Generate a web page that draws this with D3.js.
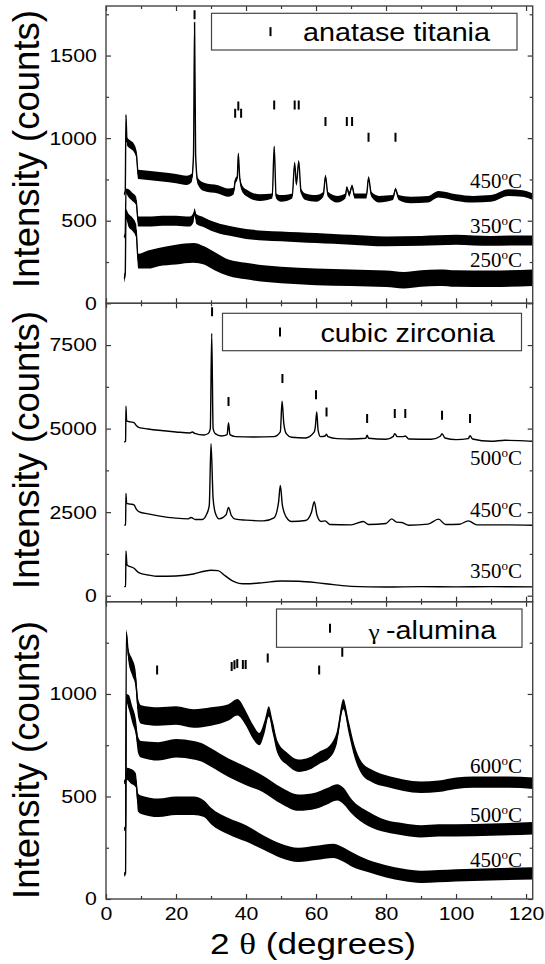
<!DOCTYPE html>
<html>
<head>
<meta charset="utf-8">
<script src="https://cdn.jsdelivr.net/npm/d3@7"></script>
<style>
  body { margin: 0; background: #fff; }
  svg { display: block; }
</style>
</head>
<body>
<div id="chart"></div>
<script>
// ---- data: [2theta, counts, noise half-width] ----
const xMajor = [0, 20, 40, 60, 80, 100, 120];
const xMinor = [10, 30, 50, 70, 90, 110];

const titania450 = [
  [5.2, 660, 10], [5.5, 680, 10], [5.7, 1140, 10], [6.0, 980, 25], [7.0, 960, 25], [8.0, 940, 25],
  [8.7, 900, 25], [9.2, 780, 28], [12, 775, 28], [16, 765, 28], [20, 755, 28], [23, 745, 28],
  [24.5, 760, 25], [25.0, 900, 10], [25.3, 1700, 5], [25.6, 900, 10], [26.2, 740, 20], [28, 705, 25],
  [32, 690, 25], [35, 670, 25], [36.5, 680, 20], [36.9, 740, 15], [37.5, 760, 15], [37.8, 905, 10],
  [38.2, 760, 15], [38.8, 700, 20], [40, 670, 20], [44, 640, 20], [47.5, 650, 15], [48.05, 950, 5],
  [48.6, 650, 15], [50, 635, 20], [53.2, 650, 15], [53.9, 850, 8], [54.4, 720, 10], [55.06, 860, 8],
  [55.7, 680, 15], [57, 645, 20], [60, 635, 20], [62.1, 660, 15], [62.7, 770, 10], [63.4, 660, 15],
  [66, 630, 20], [68.4, 650, 15], [68.8, 700, 10], [69.5, 660, 15], [70.3, 710, 10], [71, 650, 15],
  [74.4, 650, 15], [75.0, 760, 10], [75.8, 660, 15], [78, 630, 20], [82.0, 640, 15], [82.7, 690, 10],
  [83.6, 640, 15], [87, 625, 20], [92, 630, 20], [95, 660, 20], [100, 640, 20], [105, 630, 20],
  [110, 635, 20], [115, 670, 20], [119, 665, 20], [122, 645, 20]
];
const titania350 = [
  [5.2, 400, 10], [5.5, 420, 10], [5.7, 680, 15], [6.5, 665, 25], [7.5, 645, 25], [8.6, 620, 25],
  [9.2, 495, 30], [12, 495, 30], [16, 500, 30], [20, 500, 30], [24, 495, 30], [25.0, 520, 30],
  [25.3, 555, 20], [25.8, 510, 30], [28, 490, 30], [30, 470, 30], [35, 440, 30], [40, 420, 30],
  [45, 410, 30], [50, 405, 30], [55, 400, 30], [60, 395, 30], [65, 390, 30], [70, 385, 30],
  [80, 375, 30], [90, 378, 30], [100, 385, 30], [105, 380, 30], [110, 378, 30], [116, 380, 30], [122, 380, 30]
];
const titania250 = [
  [5.2, 150, 25], [5.5, 180, 20], [5.7, 540, 30], [6.5, 500, 40], [7.5, 480, 40], [8.6, 440, 40],
  [9.2, 255, 45], [12, 265, 55], [15, 280, 55], [20, 295, 60], [25, 305, 60], [28, 290, 55],
  [31, 255, 55], [35, 215, 50], [40, 195, 50], [45, 180, 50], [50, 172, 50], [60, 160, 50],
  [70, 155, 50], [80, 148, 50], [85, 140, 50], [90, 150, 50], [95, 155, 50], [100, 150, 50],
  [110, 148, 50], [122, 155, 50]
];
const titaniaRefs = [
  [25.3, 1747], [36.9, 1150], [37.8, 1195], [38.6, 1150], [48.05, 1200], [53.9, 1200], [55.06, 1200],
  [62.7, 1100], [68.8, 1100], [70.3, 1100], [75.0, 1005], [82.7, 1005]
];

const zirconia500 = [
  [5.2, 4600, 0], [5.6, 4620, 0], [5.7, 5670, 0], [5.9, 5230, 0], [7, 5200, 0], [8, 5180, 0],
  [8.6, 5100, 0], [9.5, 5030, 0], [12, 4990, 0], [15, 4950, 0], [20, 4900, 0], [24, 4870, 0],
  [24.7, 4900, 0], [25.3, 4860, 0], [28, 4810, 0], [29.3, 4860, 0], [29.8, 5000, 0], [30.2, 7850, 0],
  [30.6, 5000, 0], [31.2, 4850, 0], [33, 4780, 0], [34.6, 4820, 0], [35.0, 5180, 0], [35.4, 4820, 0],
  [37, 4760, 0], [42, 4750, 0], [48, 4760, 0], [49.8, 4900, 0], [50.3, 5820, 0], [50.8, 5150, 0],
  [51.5, 4850, 0], [53, 4740, 0], [57, 4720, 0], [59.5, 4900, 0], [59.8, 5050, 0], [60.2, 5500, 0],
  [60.6, 4950, 0], [61.3, 4760, 0], [62.6, 4780, 0], [63.0, 4830, 0], [63.4, 4760, 0], [66, 4700, 0],
  [70, 4690, 0], [74.2, 4710, 0], [74.6, 4800, 0], [75.0, 4710, 0], [80, 4680, 0], [82.0, 4760, 0],
  [82.5, 4850, 0], [83.2, 4760, 0], [84.8, 4760, 0], [85.5, 4780, 0], [86.5, 4690, 0], [93, 4680, 0],
  [95.5, 4770, 0], [96.0, 4850, 0], [96.8, 4720, 0], [100, 4670, 0], [103.5, 4700, 0], [104.0, 4790, 0],
  [104.7, 4690, 0], [110, 4620, 0], [114, 4650, 0], [118, 4640, 0], [122, 4620, 0]
];
const zirconia450 = [
  [5.2, 2110, 0], [5.6, 2120, 0], [5.7, 3060, 0], [5.9, 2760, 0], [7, 2740, 0], [8, 2720, 0],
  [8.6, 2600, 0], [9.5, 2510, 0], [12, 2450, 0], [15, 2390, 0], [20, 2320, 0], [23.5, 2300, 0],
  [24.3, 2340, 0], [25.5, 2280, 0], [27.5, 2280, 0], [28.8, 2450, 0], [29.5, 2700, 0], [30.0, 4550, 0],
  [30.6, 2900, 0], [31.3, 2450, 0], [32.3, 2300, 0], [34.3, 2420, 0], [35.0, 2640, 0], [35.8, 2400, 0],
  [37, 2290, 0], [40, 2260, 0], [45, 2240, 0], [48, 2330, 0], [49.3, 2800, 0], [49.8, 3300, 0],
  [50.4, 2700, 0], [51.5, 2350, 0], [53, 2220, 0], [57, 2250, 0], [58.7, 2500, 0], [59.5, 2810, 0],
  [60.3, 2400, 0], [61.5, 2220, 0], [62.6, 2240, 0], [64, 2130, 0], [70, 2120, 0], [73.5, 2220, 0],
  [75, 2130, 0], [80, 2160, 0], [81.6, 2300, 0], [83, 2200, 0], [84.5, 2190, 0], [86.5, 2110, 0],
  [92, 2140, 0], [95, 2290, 0], [97, 2130, 0], [101, 2140, 0], [103.5, 2240, 0], [106, 2120, 0],
  [114, 2120, 0], [122, 2110, 0]
];
const zirconia350 = [
  [5.2, 270, 0], [5.6, 280, 0], [5.7, 1340, 0], [6.0, 920, 0], [8, 820, 0], [9.5, 680, 0],
  [12, 620, 0], [15, 580, 0], [20, 590, 0], [25, 650, 0], [28, 730, 0], [30, 760, 0], [32, 750, 0],
  [34, 600, 0], [36, 450, 0], [38, 370, 0], [40, 355, 0], [45, 390, 0], [50, 440, 0], [55, 430, 0],
  [60, 390, 0], [65, 330, 0], [70, 280, 0], [80, 260, 0], [90, 270, 0], [100, 265, 0], [110, 270, 0],
  [122, 265, 0]
];
const zirconiaRefs = [
  [30.3, 8500], [35.0, 5810], [50.4, 6500], [60.0, 6010], [63.0, 5500], [74.6, 5300],
  [82.5, 5450], [85.5, 5450], [96.0, 5400], [104.0, 5300]
];

const alumina600 = [
  [5.2, 120, 10], [5.6, 125, 10], [5.8, 1300, 15], [6.4, 1190, 30], [7.5, 1130, 40], [8.4, 1080, 40],
  [9.2, 930, 45], [10, 900, 45], [15, 890, 45], [20, 895, 45], [25, 880, 45], [30, 890, 45],
  [35, 910, 40], [37.5, 935, 40], [40, 880, 35], [42, 815, 35], [43.8, 780, 30], [45.3, 840, 30],
  [46.5, 915, 25], [47.6, 840, 30], [49, 740, 30], [52, 680, 30], [55, 650, 30], [58, 660, 30],
  [61, 690, 30], [64, 720, 30], [66, 790, 30], [67.8, 950, 25], [69.3, 840, 30], [71, 720, 30],
  [73, 640, 30], [76, 600, 30], [80, 575, 28], [85, 555, 28], [90, 545, 28], [95, 550, 28],
  [100, 565, 28], [105, 570, 28], [110, 570, 28], [115, 570, 28], [122, 565, 28]
];
const alumina500 = [
  [5.2, 340, 10], [5.6, 350, 10], [5.8, 980, 20], [6.5, 960, 35], [7.5, 900, 40], [8.5, 840, 40],
  [9.2, 750, 40], [10, 730, 40], [15, 720, 45], [20, 735, 45], [25, 725, 45], [28, 710, 45],
  [30, 690, 45], [35, 640, 45], [40, 600, 45], [45, 560, 40], [50, 505, 40], [55, 470, 40],
  [60, 480, 40], [63, 500, 40], [66, 520, 40], [68, 500, 40], [70, 455, 35], [75, 390, 35],
  [80, 355, 30], [85, 340, 30], [90, 330, 30], [95, 335, 30], [100, 335, 30], [110, 338, 30], [122, 345, 30]
];
const alumina450 = [
  [5.2, 570, 10], [5.6, 580, 15], [6.0, 610, 30], [7, 600, 35], [8.5, 580, 35], [9.2, 470, 45],
  [10, 460, 45], [15, 445, 45], [20, 455, 45], [25, 455, 45], [28, 440, 40], [30, 405, 40],
  [35, 355, 40], [40, 320, 40], [45, 275, 35], [50, 235, 35], [55, 215, 35], [60, 225, 35],
  [65, 235, 35], [68, 215, 35], [70, 195, 35], [75, 160, 30], [80, 135, 30], [85, 118, 30],
  [90, 108, 30], [100, 115, 30], [110, 120, 30], [122, 125, 30]
];
const aluminaRefs = [
  [14.6, 1117], [35.9, 1134], [36.7, 1142], [37.5, 1149], [39.1, 1144], [39.9, 1144],
  [46.2, 1176], [60.9, 1117], [67.5, 1204]
];

// ---- layout ----
const width = 545, height = 964;
const left = 106, right = 532.7;
const font = "'Liberation Sans', Arial, sans-serif";
const serif = "'Liberation Serif', 'Times New Roman', serif";
const stretch = 1.15; // the original figure's sans text is a little wide

const panels = [
  {
    top: 6, bottom: 303.3, domain: [0, 1800],
    major: [0, 500, 1000, 1500], minor: [250, 750, 1250, 1750],
    series: [titania450, titania350, titania250],
    temps: [["450", 188], ["350", 233], ["250", 267]],
    refs: titaniaRefs,
    legend: { x0: 211.5, x1: 517, y0: 13.3, y1: 50, mark: 270.5, tx: 303, ty: 41, label: "anatase titania" },
    titleY: 149
  },
  {
    top: 303.3, bottom: 601.7, domain: [-180, 8750],
    major: [0, 2500, 5000, 7500], minor: [1250, 3750, 6250],
    series: [zirconia500, zirconia450, zirconia350],
    temps: [["500", 465], ["450", 516.5], ["350", 578]],
    refs: zirconiaRefs,
    legend: { x0: 222.5, x1: 521.5, y0: 313.3, y1: 350.7, mark: 280, tx: 320.5, ty: 342, label: "cubic zirconia" },
    titleY: 450
  },
  {
    top: 601.7, bottom: 899, domain: [0, 1450],
    major: [0, 500, 1000], minor: [250, 750, 1250],
    series: [alumina600, alumina500, alumina450],
    temps: [["600", 773], ["500", 821.5], ["450", 866.5]],
    refs: aluminaRefs,
    legend: { x0: 276.5, x1: 522, y0: 609, y1: 647.3, mark: 330, tx: 368.5, ty: 638.5, label: "-alumina", gamma: true },
    titleY: 760
  }
];

const svg = d3.select("#chart").append("svg")
  .attr("width", width).attr("height", height);

const x = d3.scaleLinear().domain([0, 121.9]).range([left, right]);

panels.forEach(function (p, pi) {
  const y = d3.scaleLinear().domain(p.domain).range([p.bottom, p.top]);
  const g = svg.append("g");

  const clipId = "clip" + pi;
  svg.append("clipPath").attr("id", clipId).append("rect")
    .attr("x", left).attr("y", p.top).attr("width", right - left).attr("height", p.bottom - p.top);

  const plot = g.append("g").attr("clip-path", `url(#${clipId})`);

  const area = d3.area().curve(d3.curveMonotoneX)
    .x(d => x(d[0])).y0(d => y(d[1] - d[2])).y1(d => y(d[1] + d[2]));
  const line = d3.line().curve(d3.curveMonotoneX)
    .x(d => x(d[0])).y(d => y(d[1]));

  p.series.forEach(function (s) {
    plot.append("path").attr("d", area(s)).attr("fill", "#000");
    plot.append("path").attr("d", line(s))
      .attr("fill", "none").attr("stroke", "#000").attr("stroke-width", 1.4);
  });

  // reference peak positions
  plot.selectAll(".ref").data(p.refs).enter().append("line")
    .attr("x1", d => x(d[0])).attr("x2", d => x(d[0]))
    .attr("y1", d => y(d[1]) - 4.5).attr("y2", d => y(d[1]) + 4.5)
    .attr("stroke", "#000").attr("stroke-width", 2);

  // axes, ticks inward on all four sides
  const axes = [
    [d3.axisBottom(x), `translate(0,${p.bottom})`, xMajor, xMinor, pi === 2],
    [d3.axisTop(x), `translate(0,${p.top})`, xMajor, xMinor, false],
    [d3.axisLeft(y), `translate(${left},0)`, p.major, p.minor, true],
    [d3.axisRight(y), `translate(${right},0)`, p.major, p.minor, false]
  ];
  axes.forEach(function (a) {
    const maj = g.append("g").attr("transform", a[1])
      .call(a[0].tickValues(a[2]).tickSize(-5).tickPadding(a[4] ? 8 : 0).tickFormat(a[4] ? d3.format("d") : ""));
    maj.select(".domain").remove();
    maj.selectAll("line").attr("stroke", "#333").attr("stroke-width", 1.2);
    maj.selectAll("text").attr("font-family", font).attr("font-size", 18.5).attr("fill", "#000")
      .attr("transform", `scale(${stretch},1)`);
    const mn = g.append("g").attr("transform", a[1])
      .call(a[0].tickValues(a[3]).tickSize(-3).tickFormat(""));
    mn.select(".domain").remove();
    mn.selectAll("line").attr("stroke", "#333").attr("stroke-width", 1.2);
  });

  g.append("rect")
    .attr("x", left).attr("y", p.top).attr("width", right - left).attr("height", p.bottom - p.top)
    .attr("fill", "none").attr("stroke", "#444").attr("stroke-width", 1.4);

  // temperature labels
  p.temps.forEach(function (t) {
    const tx = g.append("text").attr("x", 522).attr("y", t[1])
      .attr("text-anchor", "end").attr("font-family", serif).attr("font-size", 21);
    tx.append("tspan").text(t[0]);
    tx.append("tspan").attr("dy", -8).attr("font-size", 13).text("o");
    tx.append("tspan").attr("dy", 8).text("C");
  });

  // legend
  const L = p.legend;
  g.append("rect").attr("x", L.x0).attr("y", L.y0).attr("width", L.x1 - L.x0).attr("height", L.y1 - L.y0)
    .attr("fill", "#fff").attr("stroke", "#444").attr("stroke-width", 1.2);
  g.append("line").attr("x1", L.mark).attr("x2", L.mark)
    .attr("y1", (L.y0 + L.y1) / 2 - 4.5).attr("y2", (L.y0 + L.y1) / 2 + 4.5)
    .attr("stroke", "#000").attr("stroke-width", 2);
  const lt = g.append("text").attr("transform", `translate(${L.tx},${L.ty}) scale(${stretch},1)`)
    .attr("font-family", font).attr("font-size", 25);
  if (L.gamma) {
    lt.append("tspan").attr("font-family", serif).attr("font-size", 22).text("γ ");
  }
  lt.append("tspan").text(L.label);

  // y axis title
  g.append("text")
    .attr("transform", `translate(39,${p.titleY}) rotate(-90)`)
    .attr("text-anchor", "middle").attr("font-family", font).attr("font-size", 36.5)
    .text("Intensity (counts)");
});

// x axis title
const xt = svg.append("text").attr("transform", `translate(313,954) scale(1.17,1)`)
  .attr("text-anchor", "middle").attr("font-family", font).attr("font-size", 30);
xt.append("tspan").text("2 ");
xt.append("tspan").attr("font-family", serif).text("θ");
xt.append("tspan").text(" (degrees)");
</script>
</body>
</html>
